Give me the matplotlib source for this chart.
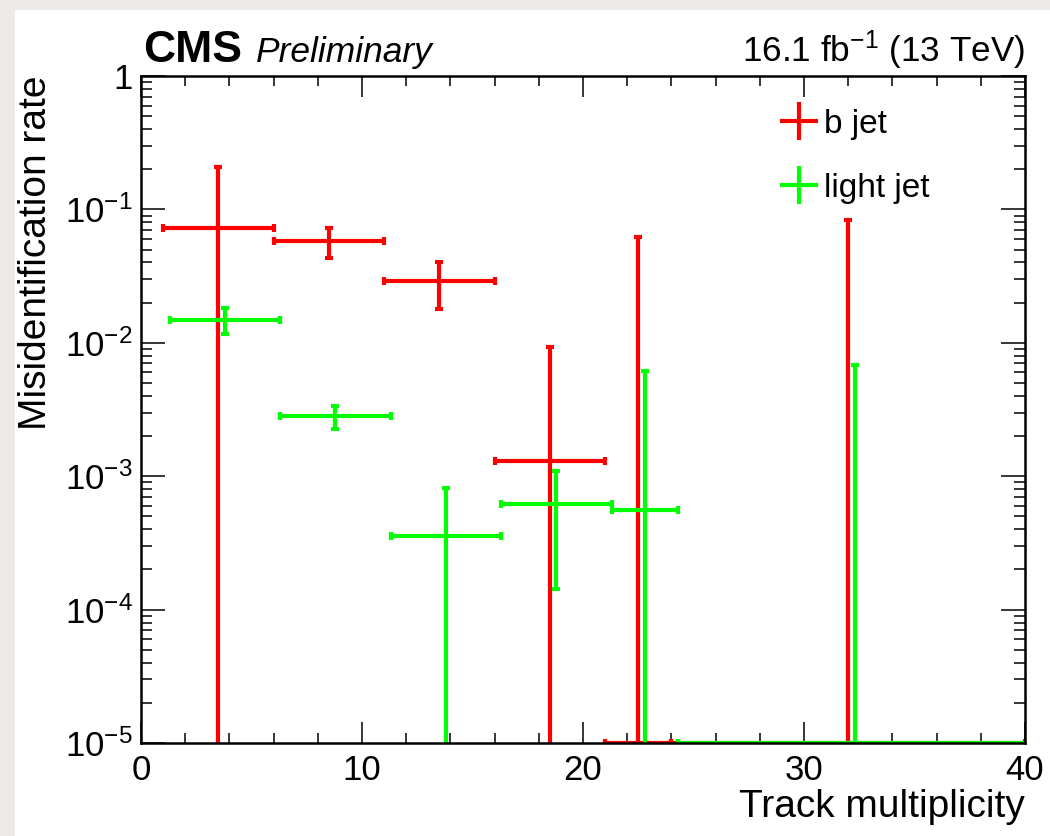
import numpy as np
import matplotlib
matplotlib.use("Agg")
import matplotlib.pyplot as plt
from matplotlib.patches import Rectangle
from matplotlib.lines import Line2D
from matplotlib.ticker import MultipleLocator, LogLocator, FuncFormatter, NullFormatter

plt.rcParams["font.family"] = ["Liberation Sans", "DejaVu Sans"]
plt.rcParams["mathtext.fontset"] = "custom"
plt.rcParams["mathtext.rm"] = "Liberation Sans"
plt.rcParams["mathtext.it"] = "Liberation Sans:italic"
plt.rcParams["mathtext.bf"] = "Liberation Sans:bold"

# track multiplicity bins
bin_lo = [1, 6, 11, 16, 21, 24]
bin_hi = [6, 11, 16, 21, 24, 40]
light_shift = 0.3

# b jet misidentification rate, with error band bounds
b_rate = [0.0726, 0.058, 0.0292, 0.00131, 0.0, 0.0]
b_low = [0.0, 0.043, 0.0178, 0.0, 0.0, 0.0]
b_high = [0.209, 0.0729, 0.0405, 0.00935, 0.0621, 0.0828]

# light jet misidentification rate
l_rate = [0.01475, 0.00281, 0.000356, 0.000622, 0.000558, 0.0]
l_low = [0.01157, 0.00227, 0.0, 0.0001435, 0.0, 0.0]
l_high = [0.01823, 0.00336, 0.000816, 0.001094, 0.00618, 0.00679]

ymin, ymax = 1e-5, 1.0

fig = plt.figure(figsize=(10.5, 8.36), dpi=100)
fig.patch.set_facecolor("#eceae6")
fig.patches.append(Rectangle((15 / 1050, 0), 1, 1 - 10 / 836, transform=fig.transFigure,
                             facecolor="white", edgecolor="none", zorder=-1))

ax = fig.add_axes([141 / 1050, 1 - 743 / 836, 884 / 1050, 667 / 836])
ax.set_facecolor("white")


def draw_series(rate, low, high, shift, color):
    lo = np.array(bin_lo, dtype=float) + shift
    hi = np.array(bin_hi, dtype=float) + shift
    x = 0.5 * (lo + hi)
    rate = np.array(rate)
    # empty bins sit on the lower edge of the plot
    y = np.where(rate > 0, rate, ymin)
    ylow = np.where(np.array(low) > 0, np.array(low), 1e-12)
    yerr = [y - ylow, np.array(high) - y]
    xerr = [x - lo, hi - x]
    ax.errorbar(x, y, xerr=xerr, yerr=yerr, fmt="none", ecolor=color,
                elinewidth=3.0, capsize=3.0, capthick=3.0, clip_on=True)


draw_series(b_rate, b_low, b_high, 0.0, "#ff0000")
draw_series(l_rate, l_low, l_high, light_shift, "#00ff00")

ax.set_yscale("log")
ax.set_xlim(0, 40)
ax.set_ylim(ymin, ymax)

ax.xaxis.set_major_locator(MultipleLocator(10))
ax.xaxis.set_minor_locator(MultipleLocator(2))
ax.yaxis.set_major_locator(LogLocator(base=10, numticks=10))
ax.yaxis.set_minor_locator(LogLocator(base=10, subs=np.arange(2, 10), numticks=10))
ax.yaxis.set_minor_formatter(NullFormatter())


def log_label(v, pos):
    e = int(round(np.log10(v)))
    if e == 0:
        return "1"
    return r"$10^{%d}$" % e


ax.yaxis.set_major_formatter(FuncFormatter(log_label))

ax.tick_params(which="both", direction="in", top=True, right=True, width=1.1, labelsize=25)
ax.tick_params(axis="x", which="major", length=15, pad=8)
ax.tick_params(axis="x", which="minor", length=7.5)
ax.tick_params(axis="y", which="major", length=17, pad=6)
ax.tick_params(axis="y", which="minor", length=8)
for s in ax.spines.values():
    s.set_linewidth(1.8)

ax.set_xlabel("Track multiplicity", fontsize=28, loc="right")
ax.xaxis.set_label_coords(1.0, -0.069)
ax.set_ylabel("Misidentification rate", fontsize=28, loc="top")
ax.yaxis.set_label_coords(-0.098, 1.0)

handles = [
    Line2D([], [], color="#ff0000", marker="+", ls="none", markersize=27, markeredgewidth=3),
    Line2D([], [], color="#00ff00", marker="+", ls="none", markersize=27, markeredgewidth=3),
]
ax.legend(handles, ["b jet", "light jet"], loc="upper left", bbox_to_anchor=(0.691, 0.9955),
          frameon=False, fontsize=24, handlelength=1.0, handletextpad=0.25, labelspacing=0.98)

fig.text(143 / 1050, 1 - 62 / 836, "CMS", fontsize=32, fontweight="bold", ha="left", va="baseline")
fig.text(256 / 1050, 1 - 62 / 836, "Preliminary", fontsize=25.5, style="italic", ha="left", va="baseline")
fig.text(1025 / 1050, 1 - 62 / 836, r"16.1 fb$^{-1}$ (13 TeV)", fontsize=25.3, ha="right", va="baseline")

fig.savefig("out.png", dpi=100, facecolor=fig.get_facecolor())
